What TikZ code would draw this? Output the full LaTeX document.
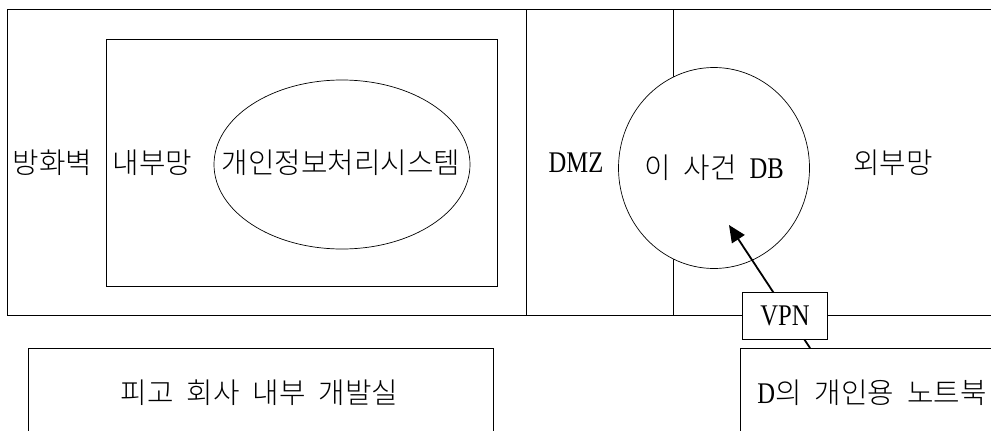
\documentclass[tikz,border=0pt]{standalone}
\usepackage{fontspec}
\setmainfont[FakeStretch=0.82]{Liberation Serif}
\newfontfamily\kr[Scale=0.96]{Noto Sans CJK KR Light}
\usetikzlibrary{shapes.geometric,arrows.meta}
\newcommand\kgap{\hspace{13pt}}
\begin{document}
\begin{tikzpicture}[x=1pt,y=-1pt,
  box/.style={draw=black,line width=0.8pt,inner sep=0pt,fill=white},
  oval/.style={draw=black,line width=0.7pt,ellipse,inner sep=0pt,fill=white},
  lbl/.style={inner sep=0pt,font=\fontsize{30}{34}\selectfont},
  link/.style={line width=1.8pt,-{Triangle[length=17pt,width=15pt]}}]
\useasboundingbox (0,0) rectangle (991,431);
\clip (0,0) rectangle (991,431);
% firewall / internal
\node[box,minimum width=519,minimum height=306] (fw) at (266.5,162) {};
\node[box,minimum width=391,minimum height=247] (inner) at (301.5,162.5) {};
\node[oval,minimum width=256,minimum height=169] (sys) at (342,164.5) {};
% DMZ / external
\node[box,minimum width=480,minimum height=306] (ext) at (766,162) {};
\coordinate (divt) at (673,9);
\coordinate (divb) at (673,315);
\draw[line width=0.8pt] (divt) -- (divb);
\node[oval,minimum width=191,minimum height=201] (db) at (714,168) {};
% bottom boxes
\node[box,minimum width=465,minimum height=100] (dev) at (260.5,398) {};
\node[box,minimum width=270,minimum height=100] (lap) at (875,398) {};
% arrow
\coordinate (tail) at (810,348);
\coordinate (tip) at (729,225);
\draw[link] (tail) -- (tip);
\node[box,minimum width=85,minimum height=47,lbl] (vpn) at (785,316) {VPN};
% labels
\node[lbl] (l1) at (52.5,163) {\kr 방화벽};
\node[lbl] (l2) at (152.5,163) {\kr 내부망};
\node[lbl] (l3) at (341,163) {\kr 개인정보처리시스템};
\node[lbl] (l4) at (576,163) {DMZ};
\node[lbl] (l5) at (714,168) {{\kr 이\kgap 사건}\kgap DB};
\node[lbl] (l6) at (893,163) {\kr 외부망};
\node[lbl] (l7) at (259.5,393) {\kr 피고\kgap 회사\kgap 내부\kgap 개발실};
\node[lbl] (l8) at (872,393) {D{\kr 의\kgap 개인용\kgap 노트북}};
\end{tikzpicture}
\end{document}
